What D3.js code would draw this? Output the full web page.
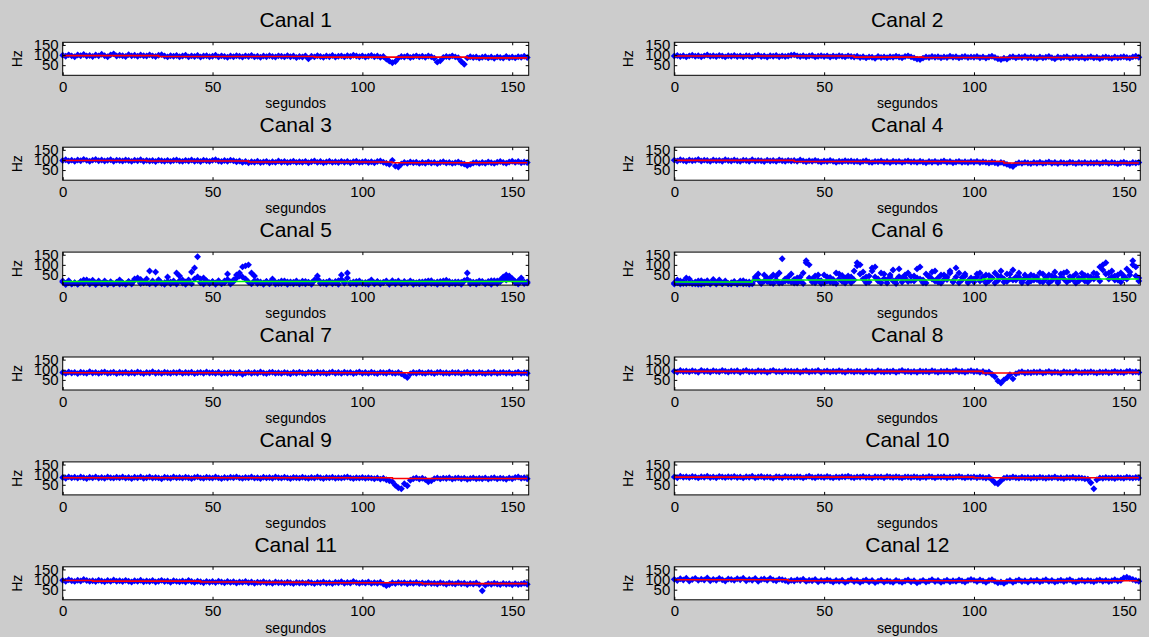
<!DOCTYPE html>
<html>
<head>
<meta charset="utf-8">
<script src="https://cdn.jsdelivr.net/npm/d3@7"></script>
<style>
  body { margin: 0; background: #cccccc; }
  svg { display: block; }
  text { font-family: "Liberation Sans", Arial, sans-serif; fill: #000; }
</style>
</head>
<body>
<svg id="fig" width="1149" height="637"></svg>
<script>
// one reading per second, 0..155 s
const canal1 = [99,94,101,96,92,100,97,103,95,98,93,100,96,104,97,92,101,106,95,99,
  97,93,102,96,99,94,100,97,95,101,96,93,99,102,95,91,97,94,98,92,
  95,99,91,96,93,98,90,95,97,92,94,99,91,96,93,89,95,92,97,94,
  90,96,93,98,91,94,89,95,92,97,93,90,96,94,91,97,92,95,88,93,
  90,96,82,94,91,97,93,89,95,92,98,90,94,96,91,97,93,99,95,92,
  96,90,94,98,92,95,89,93,80,70,62,68,85,93,90,95,88,92,96,91,
  94,89,95,92,84,65,72,88,93,90,96,91,87,68,55,86,92,88,90,85,
  89,92,86,90,84,91,88,85,93,87,90,86,92,89,94,88];
const canal2 = [95,98,93,97,91,96,99,94,97,92,96,100,94,97,93,98,95,91,97,94,
  98,93,96,92,97,95,91,96,99,93,95,90,97,94,98,92,96,93,95,99,
  101,96,93,97,92,95,98,91,94,97,93,96,90,95,92,97,94,91,96,93,
  90,94,88,92,86,91,89,84,93,88,91,87,92,89,94,90,87,93,96,91,
  86,80,78,85,91,88,93,89,92,87,91,88,94,89,92,86,90,93,88,91,
  89,93,87,91,85,90,94,88,82,78,84,80,89,92,86,91,88,93,87,90,
  88,84,91,86,89,93,87,82,90,86,89,92,85,88,91,86,90,84,88,92,
  86,89,83,88,91,87,84,90,86,89,92,88,85,91,94,89];
const canal3 = [97,101,95,99,94,100,96,103,98,94,99,102,96,100,95,98,101,94,99,97,
  95,100,97,93,99,96,101,94,98,95,97,92,99,96,94,98,93,97,100,95,
  93,98,95,100,94,97,92,99,96,93,98,101,95,92,97,94,99,96,91,95,
  88,92,86,91,89,94,87,90,93,86,91,88,95,89,92,87,90,94,88,91,
  89,93,86,91,95,88,92,86,90,94,88,91,87,93,89,92,86,91,94,88,
  90,93,87,91,86,92,95,89,84,78,98,70,65,80,88,84,90,86,89,83,
  87,84,90,85,88,82,87,91,85,88,83,86,90,84,80,72,78,85,88,83,
  87,84,90,86,83,89,92,87,84,90,94,88,92,86,90,87];
const canal4 = [99,95,101,97,94,100,96,98,102,95,99,97,93,100,96,98,94,101,97,95,
  100,96,93,99,97,94,101,95,98,96,92,99,95,97,93,100,96,94,98,95,
  97,93,100,95,91,96,93,98,94,90,95,92,97,93,89,94,91,96,92,95,
  91,94,89,93,96,90,88,93,91,95,89,92,87,94,90,93,88,92,95,90,
  92,88,94,90,86,92,89,93,87,91,95,89,92,86,90,93,88,91,87,92,
  89,93,87,91,88,85,90,86,82,88,84,78,72,68,80,86,83,88,85,82,
  87,84,89,83,86,90,84,87,82,88,85,83,89,86,82,87,84,88,83,86,
  84,88,82,86,89,83,87,85,81,86,89,84,82,87,85,88];
// canales 5 y 6: two readings per second
const canal5a = [15,3,22,6,12,4,18,8,25,5,14,3,20,7,11,4,17,6,13,5,
  9,4,16,5,24,28,8,12,30,6,15,5,26,9,4,18,7,14,5,22,
  10,4,25,6,30,40,12,5,20,8,15,4,22,7,12,28,5,18,35,45,
  40,30,15,6,22,8,12,4,18,6,24,5,14,8,20,4,16,7,11,5,
  19,6,13,4,25,30,8,14,5,18,7,12,4,28,9,35,6,15,5,20,
  8,13,4,22,6,16,5,11,18,4,14,7,20,5,12,8,17,4,10,6,
  15,5,21,8,12,4,18,6,24,5,13,7,16,4,20,28,6,14,5,11,
  18,6,13,4,22,8,16,30,25,35,28,12,5,20,8,15];
const canal5b = [20,8,12,5,10,6,15,25,22,18,24,10,14,6,20,9,12,5,14,25,
  12,6,18,10,30,35,28,14,12,70,20,65,18,10,12,40,15,20,60,45,
  25,15,18,65,85,140,30,35,20,12,18,10,16,8,20,55,15,25,50,60,
  90,95,100,60,45,20,15,10,18,12,30,14,8,20,12,16,10,14,20,12,
  10,18,14,12,22,45,16,10,14,20,12,18,22,50,16,60,12,10,18,14,
  12,8,16,25,10,18,12,14,20,10,22,14,16,10,18,12,20,14,10,16,
  12,18,14,22,10,16,12,20,14,18,10,16,12,14,22,60,18,12,14,20,
  16,12,18,22,14,20,25,40,50,45,32,18,20,35,15,10];
const canal6a = [10,25,5,18,8,30,12,6,20,4,15,22,8,28,5,14,9,20,6,12,
  18,5,10,22,8,15,6,40,25,10,50,18,35,8,45,60,12,30,20,55,
  28,10,40,60,120,35,15,45,25,8,50,20,38,12,60,30,48,10,25,40,
  70,95,55,30,12,45,85,40,20,60,32,10,50,75,25,42,15,35,60,22,
  45,80,30,12,55,40,65,20,35,10,50,28,70,15,40,60,25,45,12,35,
  30,55,20,40,10,48,35,60,22,42,15,55,30,75,25,40,12,50,35,20,
  45,28,60,15,38,50,22,40,12,55,30,65,25,42,10,35,58,20,45,30,
  60,40,90,100,55,30,70,45,25,60,35,80,50,100,45,20];
const canal6b = [5,12,20,8,35,10,6,15,4,22,8,12,5,18,10,25,6,14,8,5,
  12,8,20,6,15,4,10,30,55,8,20,35,12,50,25,10,130,20,40,15,
  10,35,20,8,110,100,30,12,50,22,10,40,15,28,8,55,18,35,45,12,
  25,110,100,65,40,15,70,90,30,12,55,25,40,20,8,80,35,50,18,42,
  20,35,90,25,10,45,30,70,15,50,28,40,60,20,85,12,38,55,20,30,
  15,40,60,28,50,20,35,10,45,70,30,18,55,25,40,60,20,35,12,50,
  25,40,18,55,30,12,45,65,20,38,60,15,42,28,55,20,35,48,15,40,
  30,55,20,75,110,60,40,25,50,15,45,30,65,120,90,35];
const canal7 = [86,82,89,84,87,81,88,85,83,90,84,87,82,86,89,83,85,88,81,86,
  84,88,82,86,83,89,85,81,87,84,90,83,86,82,88,85,83,87,84,89,
  82,86,84,88,81,85,87,83,89,84,86,82,88,80,85,83,87,84,81,86,
  78,84,87,82,86,83,89,84,81,86,88,83,85,82,87,84,80,86,83,88,
  84,81,87,85,82,88,84,86,81,85,89,83,86,82,88,84,87,81,85,89,
  83,86,82,88,84,81,87,85,83,89,84,82,86,80,72,62,80,86,83,88,
  84,82,87,85,81,86,88,83,85,82,87,84,86,81,85,88,83,86,82,87,
  84,81,86,83,88,82,85,87,83,86,81,84,88,82,85,83];
const canal8 = [93,89,96,91,94,90,95,92,88,97,91,94,89,95,92,90,96,93,89,94,
  91,95,88,93,96,90,92,89,95,91,94,88,93,97,90,92,89,95,91,93,
  90,94,88,92,95,89,93,91,96,88,92,94,89,93,90,95,91,88,94,92,
  89,93,91,87,94,90,92,88,95,91,89,93,90,94,88,92,96,90,93,89,
  92,88,94,90,93,89,95,91,88,93,90,94,89,92,96,90,93,88,92,95,
  90,93,87,91,85,89,78,65,45,35,50,60,75,55,80,86,90,84,88,85,
  89,86,90,84,88,91,85,89,87,83,90,86,88,84,91,87,85,89,86,90,
  87,84,89,86,90,85,88,92,86,89,85,91,93,88,90,87];
const canal9 = [86,82,89,84,87,83,88,85,81,87,84,89,83,86,82,88,85,83,87,84,
  88,83,86,81,87,84,89,82,85,88,83,86,84,80,87,85,82,88,84,86,
  83,87,85,81,86,89,84,82,87,85,83,88,84,81,86,83,87,85,89,84,
  82,86,84,88,83,85,81,87,84,86,82,88,85,83,87,84,81,86,85,83,
  87,84,82,86,83,88,85,81,86,84,87,82,85,83,86,88,84,81,85,83,
  86,82,85,83,80,84,78,82,75,70,65,48,35,30,55,45,72,80,84,78,
  82,76,65,70,80,84,79,83,81,85,78,82,84,80,83,77,81,84,79,82,
  80,84,78,82,85,79,83,81,77,84,80,86,88,82,85,80];
const canal10 = [89,85,92,87,90,86,91,88,84,90,87,92,86,89,85,91,88,86,90,87,
  91,86,89,84,90,87,92,85,88,91,86,89,87,83,90,88,85,91,87,89,
  86,90,88,84,89,92,87,85,90,88,86,91,87,84,89,86,90,88,92,87,
  85,89,87,91,86,88,84,90,87,89,85,91,88,86,90,87,84,89,88,86,
  90,87,85,89,86,91,88,84,89,87,90,85,88,86,89,91,87,84,88,86,
  89,85,88,86,83,87,75,60,55,70,82,86,84,88,85,83,87,84,86,82,
  86,83,87,85,82,86,84,88,83,85,81,86,84,87,82,85,83,80,78,60,
  30,75,84,82,86,83,85,81,86,84,82,87,85,83,86,84];
const canal11 = [96,92,99,94,91,97,93,100,95,92,94,90,97,93,89,95,91,98,92,94,
  90,96,92,88,94,91,97,89,93,90,95,88,92,96,90,93,87,94,91,89,
  93,88,95,90,86,92,89,84,91,87,90,85,92,88,84,90,86,89,83,88,
  86,90,84,88,82,87,85,89,83,86,81,88,84,86,82,87,84,80,86,83,
  85,81,87,84,80,86,83,88,82,85,80,87,84,89,82,86,83,90,85,82,
  86,83,88,81,85,82,87,78,70,76,84,80,86,82,85,79,84,81,86,80,
  83,79,85,80,82,78,84,81,77,83,80,78,84,79,82,76,81,78,83,75,
  45,72,80,77,82,78,75,81,77,79,74,80,76,78,82,77];
const canal12 = [101,95,104,98,107,93,100,106,96,102,98,108,94,101,97,105,99,93,103,100,
  96,104,99,107,94,101,97,105,92,100,103,96,106,98,94,102,99,95,90,97,
  93,99,95,102,91,97,94,100,89,96,92,98,94,88,95,91,97,86,93,99,
  90,95,87,93,98,89,95,85,92,97,88,94,90,86,96,91,87,93,98,89,
  94,84,90,96,88,93,99,90,95,87,92,97,89,94,91,98,93,88,95,100,
  96,90,98,93,87,95,99,91,84,88,82,90,95,87,93,98,90,94,88,96,
  92,97,89,94,99,91,95,88,93,97,90,95,99,92,88,94,97,91,96,93,
  89,95,98,92,96,90,94,99,93,97,108,112,106,100,95,92];

// reference level per segment: [from s, to s, Hz]
const nivel1 = [[0,32,97],[32,84,93],[84,135,90],[135,155,86]];
const nivel2 = [[0,60,95],[60,83,90],[83,155,88]];
const nivel3 = [[0,28,97],[28,62,95],[62,110,90],[110,155,86]];
const nivel4 = [[0,40,98],[40,110,92],[110,155,85]];
const nivel5 = [[0,155,18]];
const nivel6 = [[0,26,15],[26,103,25],[103,155,30]];
const nivel7 = [[0,155,85]];
const nivel8 = [[0,103,92],[103,115,84],[115,155,87]];
const nivel9 = [[0,110,85],[110,155,81]];
const nivel10 = [[0,100,88],[100,155,85]];
const nivel11 = [[0,10,95],[10,46,92],[46,65,88],[65,82,86],[82,120,84],[120,155,80]];
const nivel12 = [[0,38,99],[38,155,94]];

const xTicks = [0, 50, 100, 150];
const yTicks = [50, 100, 150];

const canales = [
  {name:"Canal 1", series:[canal1], nivel:nivel1, color:"#ff0000"},
  {name:"Canal 2", series:[canal2], nivel:nivel2, color:"#ff0000"},
  {name:"Canal 3", series:[canal3], nivel:nivel3, color:"#ff0000"},
  {name:"Canal 4", series:[canal4], nivel:nivel4, color:"#ff0000"},
  {name:"Canal 5", series:[canal5a, canal5b], nivel:nivel5, color:"#00ff00"},
  {name:"Canal 6", series:[canal6a, canal6b], nivel:nivel6, color:"#00ff00"},
  {name:"Canal 7", series:[canal7], nivel:nivel7, color:"#ff0000"},
  {name:"Canal 8", series:[canal8], nivel:nivel8, color:"#ff0000"},
  {name:"Canal 9", series:[canal9], nivel:nivel9, color:"#ff0000"},
  {name:"Canal 10", series:[canal10], nivel:nivel10, color:"#ff0000"},
  {name:"Canal 11", series:[canal11], nivel:nivel11, color:"#ff0000"},
  {name:"Canal 12", series:[canal12], nivel:nivel12, color:"#ff0000"}
];

const W = 466, H = 33;
const colX = [62.7, 674.3];
const rowTop = 42.3, rowStep = 104.9;
const tickFont = '"Liberation Sans Narrow", "Liberation Sans", Arial, sans-serif';

const x = d3.scaleLinear().domain([0, 155.5]).range([0, W]);
const y = d3.scaleLinear().domain([0, 163]).range([H, 0]);

// matlab style diamond
const diamond = {
  draw(ctx, size) {
    const r = Math.sqrt(size / 2);
    ctx.moveTo(0, -r); ctx.lineTo(r, 0); ctx.lineTo(0, r); ctx.lineTo(-r, 0); ctx.closePath();
  }
};
const marker = d3.symbol().type(diamond).size(24)();

const line = d3.line().x(d => x(d[0])).y(d => y(d[1]));

const svg = d3.select("#fig");

canales.forEach((c, i) => {
  const gx = colX[i % 2], gy = rowTop + Math.floor(i / 2) * rowStep;
  const g = svg.append("g").attr("transform", `translate(${gx},${gy})`);

  g.append("rect").attr("width", W).attr("height", H).attr("fill", "#fff");

  const clipId = "clip" + i;
  g.append("clipPath").attr("id", clipId)
    .append("rect").attr("x", -4).attr("y", -4).attr("width", W + 8).attr("height", H + 8);

  const pts = g.append("g").attr("clip-path", `url(#${clipId})`);
  c.series.forEach(s => {
    pts.selectAll(null)
      .data(s)
      .enter()
      .append("path")
      .attr("d", marker)
      .attr("transform", (d, t) => `translate(${x(t)},${y(d)})`)
      .attr("fill", "#0000ff");
  });

  const steps = [];
  c.nivel.forEach(s => { steps.push([s[0], s[2]]); steps.push([s[1], s[2]]); });
  pts.append("path")
    .attr("d", line(steps))
    .attr("fill", "none")
    .attr("stroke", c.color)
    .attr("stroke-width", 1.6);

  // axes, ticks pointing in
  const ax = g.append("g").attr("transform", `translate(0,${H})`)
    .call(d3.axisBottom(x).tickValues(xTicks).tickSize(-3).tickSizeOuter(0).tickPadding(6));
  const axTop = g.append("g")
    .call(d3.axisTop(x).tickValues(xTicks).tickSize(-3).tickSizeOuter(0).tickFormat(""));
  const ay = g.append("g")
    .call(d3.axisLeft(y).tickValues(yTicks).tickSize(-3).tickSizeOuter(0).tickPadding(4));
  const ayR = g.append("g").attr("transform", `translate(${W},0)`)
    .call(d3.axisRight(y).tickValues(yTicks).tickSize(-3).tickSizeOuter(0).tickFormat(""));

  [ax, axTop, ay, ayR].forEach(a => {
    a.select(".domain").remove();
    a.selectAll("line").attr("stroke", "#000");
    a.selectAll("text").attr("font-size", 15).attr("fill", "#000")
      .style("font-family", tickFont);
  });

  g.append("rect").attr("width", W).attr("height", H)
    .attr("fill", "none").attr("stroke", "#000").attr("stroke-width", 1);

  g.append("text")
    .attr("x", W / 2).attr("y", -15)
    .attr("text-anchor", "middle")
    .attr("font-size", 21)
    .text(c.name);

  g.append("text")
    .attr("x", W / 2).attr("y", H + 33)
    .attr("text-anchor", "middle")
    .attr("font-size", 14)
    .text("segundos");

  g.append("text")
    .attr("transform", `translate(-41,${H / 2}) rotate(-90)`)
    .attr("text-anchor", "middle")
    .attr("font-size", 14)
    .text("Hz");
});
</script>
</body>
</html>
